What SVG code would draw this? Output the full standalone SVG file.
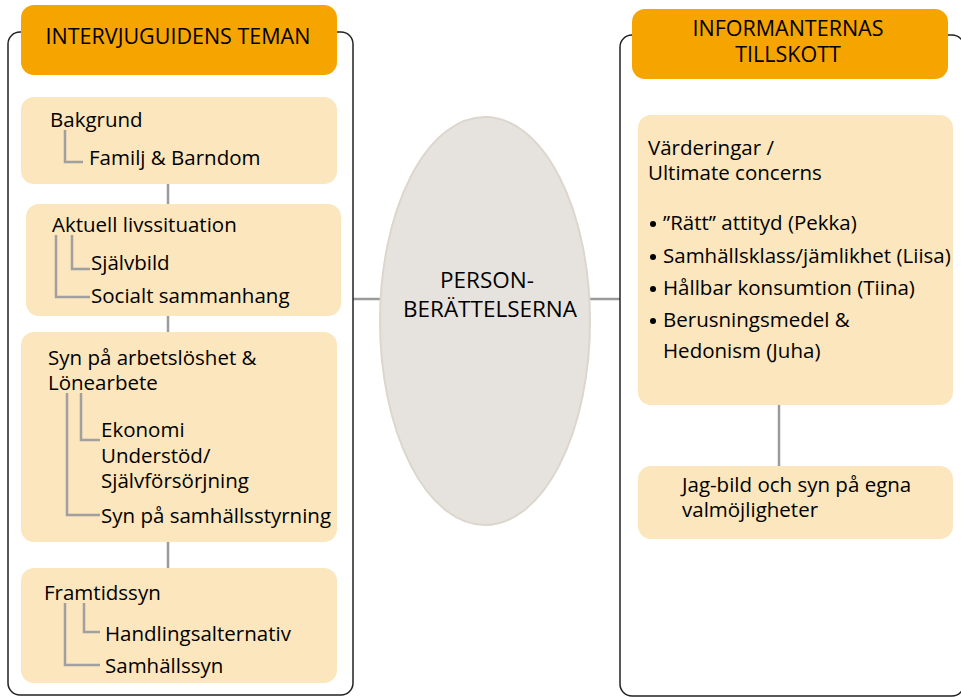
<svg xmlns="http://www.w3.org/2000/svg" width="961" height="697" viewBox="0 0 961 697">
<style>
text{font-family:"Open Sans","Noto Sans","Liberation Sans",sans-serif;fill:#000;font-size:20.5px}
.hd{font-size:21.5px}
.el{font-size:22.5px}
.frame{fill:none;stroke:#222;stroke-width:1.5}
.head{fill:#f5a400}
.box{fill:#fbe6bd}
.tree{fill:none;stroke:#a0a0a0;stroke-width:2.5}
.conn{fill:none;stroke:#9a9a9a;stroke-width:2.5}
</style>
<rect width="961" height="697" fill="#fff"/>
<g id="connectors">
<line class="conn" x1="168" y1="184" x2="168" y2="204"/>
<line class="conn" x1="168" y1="316" x2="168" y2="332"/>
<line class="conn" x1="168" y1="542" x2="168" y2="568"/>
<line class="conn" x1="353" y1="299" x2="381" y2="299"/>
<line class="conn" x1="589" y1="299" x2="620" y2="299"/>
<line class="conn" x1="779" y1="405" x2="779" y2="466"/>
</g>
<g id="left-frame">
<rect class="frame" x="8" y="32" width="345" height="663" rx="12"/>
</g>
<g id="right-frame">
<rect class="frame" x="620" y="35" width="344" height="661" rx="12"/>
</g>
<g id="left-header">
<rect class="head" x="21" y="5" width="316" height="70" rx="13"/>
<text class="hd" x="178" y="44" text-anchor="middle">INTERVJUGUIDENS TEMAN</text>
</g>
<g id="bakgrund">
<rect class="box" x="21" y="97" width="316" height="87" rx="13"/>
<path class="tree" d="M65 130V162H83"/>
<text x="50" y="127">Bakgrund</text>
<text x="89" y="165">Familj &amp; Barndom</text>
</g>
<g id="aktuell">
<rect class="box" x="26" y="204" width="315" height="112" rx="13"/>
<path class="tree" d="M56 235V297H90M72 235V269H90"/>
<text x="52" y="232">Aktuell livssituation</text>
<text x="91" y="270">Självbild</text>
<text x="91" y="303">Socialt sammanhang</text>
</g>
<g id="syn">
<rect class="box" x="21" y="332" width="316" height="210" rx="13"/>
<path class="tree" d="M67 393V515H100M81 393V440H100"/>
<text x="48" y="365">Syn på arbetslöshet &amp;</text>
<text x="48" y="390">Lönearbete</text>
<text x="101" y="437">Ekonomi</text>
<text x="101" y="463">Understöd/</text>
<text x="101" y="488">Självförsörjning</text>
<text x="101" y="523">Syn på samhällsstyrning</text>
</g>
<g id="framtid">
<rect class="box" x="21" y="568" width="316" height="115" rx="13"/>
<path class="tree" d="M65 603V665H100M84 603V632H100"/>
<text x="44" y="600">Framtidssyn</text>
<text x="105" y="641">Handlingsalternativ</text>
<text x="105" y="673">Samhällssyn</text>
</g>
<g id="person">
<ellipse cx="485" cy="321" rx="105" ry="204" fill="#e6e3df" stroke="#dcd6cc" stroke-width="2"/>
<text class="el" x="487" y="288" text-anchor="middle">PERSON-</text>
<text class="el" x="490" y="317" text-anchor="middle">BERÄTTELSERNA</text>
</g>
<g id="right-header">
<rect class="head" x="632" y="9" width="316" height="70" rx="13"/>
<text class="hd" x="788" y="36" text-anchor="middle">INFORMANTERNAS</text>
<text class="hd" x="788" y="62" text-anchor="middle">TILLSKOTT</text>
</g>
<g id="varderingar">
<rect class="box" x="638" y="115" width="315" height="290" rx="13"/>
<text x="648" y="155">Värderingar /</text>
<text x="648" y="180">Ultimate concerns</text>
<g fill="#000">
<circle cx="653" cy="224" r="3"/>
<circle cx="653" cy="257" r="3"/>
<circle cx="653" cy="289" r="3"/>
<circle cx="653" cy="321" r="3"/>
</g>
<text x="663" y="230">”Rätt” attityd (Pekka)</text>
<text x="663" y="263">Samhällsklass/jämlikhet (Liisa)</text>
<text x="663" y="295">Hållbar konsumtion (Tiina)</text>
<text x="663" y="327">Berusningsmedel &amp;</text>
<text x="663" y="358">Hedonism (Juha)</text>
</g>
<g id="jagbild">
<rect class="box" x="638" y="466" width="315" height="73" rx="13"/>
<text x="682" y="492">Jag-bild och syn på egna</text>
<text x="682" y="517">valmöjligheter</text>
</g>
</svg>
